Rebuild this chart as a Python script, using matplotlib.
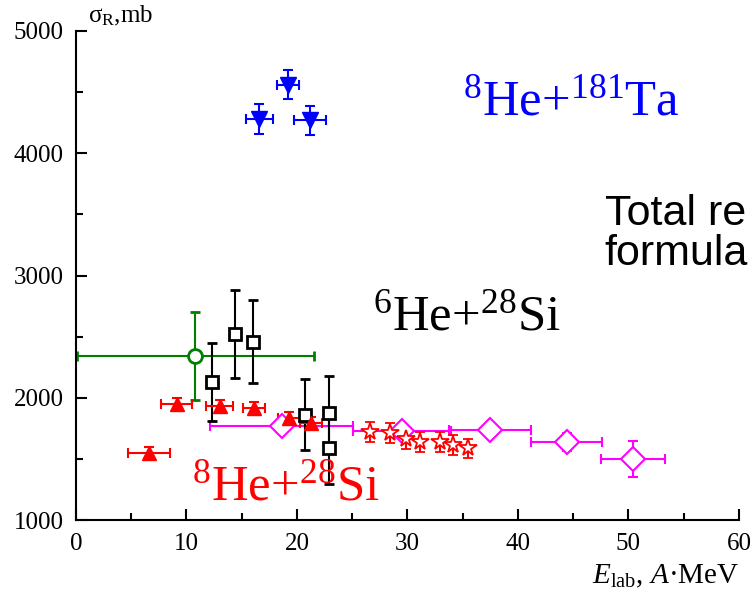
import matplotlib
matplotlib.use('Agg')
import matplotlib.pyplot as plt
import numpy as np

plt.rcParams['font.family'] = ['Liberation Serif', 'DejaVu Serif']
plt.rcParams['mathtext.fontset'] = 'custom'
plt.rcParams['mathtext.rm'] = 'Liberation Serif'
plt.rcParams['mathtext.it'] = 'Liberation Serif:italic'
plt.rcParams['mathtext.bf'] = 'Liberation Serif:bold'

# 8He + 181Ta
ta_e = [16.6, 19.2, 21.2]
ta_s = [4280, 4560, 4270]
ta_de = [1.2, 1.0, 1.45]
ta_ds = [120, 120, 120]

# 6He + 28Si, wide-bin point
he6_wide_e = [10.8]
he6_wide_s = [2340]
he6_wide_de = [10.7]
he6_wide_ds = [360]

# 6He + 28Si
he6_e = [12.3, 14.4, 16.0, 20.7, 22.9, 22.9]
he6_s = [2130, 2520, 2460, 1860, 1875, 1585]
he6_ds = [320, 360, 340, 290, 300, 290]

# 8He + 28Si, triangles
he8_tri_e = [6.6, 9.1, 13.0, 16.1, 19.3, 21.3]
he8_tri_s = [1550, 1950, 1930, 1915, 1835, 1795]
he8_tri_de = [1.9, 1.4, 1.2, 1.0, 1.0, 1.0]
he8_tri_ds = [50, 50, 50, 50, 50, 50]

# 8He + 28Si, stars
he8_star_e = [26.6, 28.4, 29.9, 31.1, 32.9, 34.1, 35.5]
he8_star_s = [1720, 1710, 1660, 1640, 1640, 1615, 1585]
he8_star_ds = [85, 80, 80, 80, 80, 80, 80]

# diamonds with energy bins
dia_e = [18.6, 29.5, 37.5, 44.4, 50.4]
dia_s = [1765, 1730, 1735, 1640, 1500]
dia_de = [6.5, 4.4, 3.7, 3.2, 2.9]
dia_ds = [30, 40, 45, 75, 150]

fig = plt.figure(figsize=(7.56, 5.96), dpi=100)
ax = fig.add_axes([0.1005, 0.1275, 0.877, 0.8205])

eb = dict(capsize=3.5, elinewidth=1.5, capthick=1.5, linestyle='none')

ax.errorbar(dia_e, dia_s, xerr=dia_de, yerr=dia_ds, fmt='D', color='magenta',
            mfc='white', mec='magenta', ms=12, mew=1.5, **eb)
ax.errorbar(he6_wide_e, he6_wide_s, xerr=he6_wide_de, yerr=he6_wide_ds, fmt='o',
            color='green', mfc='white', mec='green', ms=10, mew=2, **eb)
ax.errorbar(he6_e, he6_s, yerr=he6_ds, fmt='s', color='black', mfc='white',
            mec='black', ms=8, mew=2, **eb)
ax.errorbar(he8_tri_e, he8_tri_s, xerr=he8_tri_de, yerr=he8_tri_ds, fmt='^',
            color='red', ms=10, **eb)
ax.errorbar(he8_star_e, he8_star_s, yerr=he8_star_ds, fmt='*', color='red',
            mfc='white', mec='red', ms=13, mew=1.3, **eb)
ax.errorbar(ta_e, ta_s, xerr=ta_de, yerr=ta_ds, fmt='v', color='blue', ms=11, **eb)

ax.set_xlim(0, 60)
ax.set_ylim(1000, 5000)
ax.set_xticks(np.arange(0, 61, 10))
ax.set_xticks(np.arange(5, 60, 10), minor=True)
ax.set_yticks(np.arange(1000, 5001, 1000))
ax.set_yticks(np.arange(1500, 5000, 1000), minor=True)
ax.tick_params(which='both', direction='in', width=1.5, labelsize=18)
ax.tick_params(which='major', length=8)
ax.tick_params(which='minor', length=5)
ax.tick_params(axis='x', pad=9)
ax.tick_params(axis='y', pad=9)
for side in ['top', 'right']:
    ax.spines[side].set_visible(False)
for side in ['left', 'bottom']:
    ax.spines[side].set_linewidth(1.5)

fig.text(0.116, 0.962, 'σ$_{\\mathrm{R}}$,mb', fontsize=18, va='baseline')
fig.text(0.978, 0.022, '$E_{\\mathrm{lab}}$, $A$·MeV', fontsize=21,
         ha='right', va='baseline')

ax.text(35.0, 4313, '$^{8}$He+$^{181}$Ta', color='blue', fontsize=36.5, va='baseline')
ax.text(26.9, 2554, '$^{6}$He+$^{28}$Si', color='black', fontsize=36.5, va='baseline')
ax.text(10.5, 1164, '$^{8}$He+$^{28}$Si', color='red', fontsize=36.5, va='baseline')

fig.text(0.80, 0.623, 'Total re', fontsize=31, family='Liberation Sans', va='baseline')
fig.text(0.80, 0.555, 'formula', fontsize=31, family='Liberation Sans', va='baseline')

fig.savefig('out.png', dpi=100)
